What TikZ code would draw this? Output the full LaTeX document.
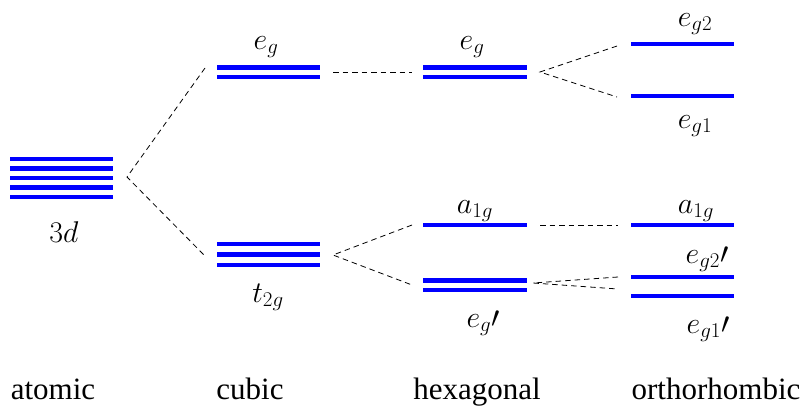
\RequirePackage{fix-cm}
\documentclass[tikz,border=0pt]{standalone}
\usepackage[no-math]{fontspec}
\newfontfamily\tnr{Liberation Serif}
\begin{document}
\begin{tikzpicture}[x=1pt,y=-1pt,
  level/.style={draw=blue,line width=4.8pt},
  conn/.style={draw=black,line width=0.8pt,dash pattern=on 5.5pt off 4pt},
  lab/.style={anchor=base,inner sep=0pt,font=\fontsize{30}{36}\selectfont},
  cat/.style={anchor=base,inner sep=0pt,font=\tnr\fontsize{31}{37}\selectfont}]
\useasboundingbox (0,0) rectangle (808,407);
% atomic 3d
\foreach \y in {159,168.5,178,187.5,197} \draw[level] (10,\y) -- (113,\y);
\node[lab] (l3d) at (64,242) {$3d$};
% cubic
\draw[level] (217,67.5) -- (320,67.5);
\draw[level] (217,77) -- (320,77);
\node[lab] (lceg) at (266,49) {$e_g$};
\foreach \y in {244,254.5,265} \draw[level] (217,\y) -- (320,\y);
\node[lab] (lt2g) at (268,302) {$t_{2g}$};
% hexagonal
\draw[level] (423,67.5) -- (527,67.5);
\draw[level] (423,77) -- (527,77);
\node[lab] (lheg) at (472,49) {$e_g$};
\draw[level] (423,225) -- (527,225);
\node[lab] (lha) at (475,213) {$a_{1g}$};
\draw[level] (423,280.5) -- (527,280.5);
\draw[level] (423,290) -- (527,290);
\node[lab] (lhegp) at (483,327) {$e_g\prime$};
% orthorhombic
\draw[level] (631,44) -- (734,44);
\node[lab] (leg2) at (695,26) {$e_{g2}$};
\draw[level] (631,96) -- (734,96);
\node[lab] (leg1) at (695,128) {$e_{g1}$};
\draw[level] (631,225) -- (734,225);
\node[lab] (loa) at (696,213) {$a_{1g}$};
\draw[level] (631,277) -- (734,277);
\node[lab] (leg2p) at (707,263) {$e_{g2}\prime$};
\draw[level] (631,296) -- (734,296);
\node[lab] (leg1p) at (708,333) {$e_{g1}\prime$};
% connector end points
\coordinate (a3) at (127,177);
\coordinate (ceg) at (205,68);
\coordinate (ct) at (205,256);
\coordinate (cegR) at (333,72);
\coordinate (heg) at (412,72);
\coordinate (ctR) at (333,255);
\coordinate (ha) at (412,225);
\coordinate (hegp) at (412,285);
\coordinate (hegR) at (540,72);
\coordinate (oeg2) at (617,46);
\coordinate (oeg1) at (617,97);
\coordinate (haR) at (540,225);
\coordinate (oa) at (618,225);
\coordinate (hegpR) at (533,283);
\coordinate (oeg2p) at (618,277);
\coordinate (oeg1p) at (618,289);
\draw[conn] (ceg) -- (a3) -- (ct);
\draw[conn] (cegR) -- (heg);
\draw[conn] (ha) -- (ctR) -- (hegp);
\draw[conn] (oeg2) -- (hegR) -- (oeg1);
\draw[conn] (haR) -- (oa);
\draw[conn] (oeg2p) -- (hegpR) -- (oeg1p);
% categories
\node[cat] (catA) at (53,399) {atomic};
\node[cat] (catC) at (250,399) {cubic};
\node[cat] (catH) at (477,399) {hexagonal};
\node[cat] (catO) at (716,399) {orthorhombic};
\end{tikzpicture}
\end{document}
